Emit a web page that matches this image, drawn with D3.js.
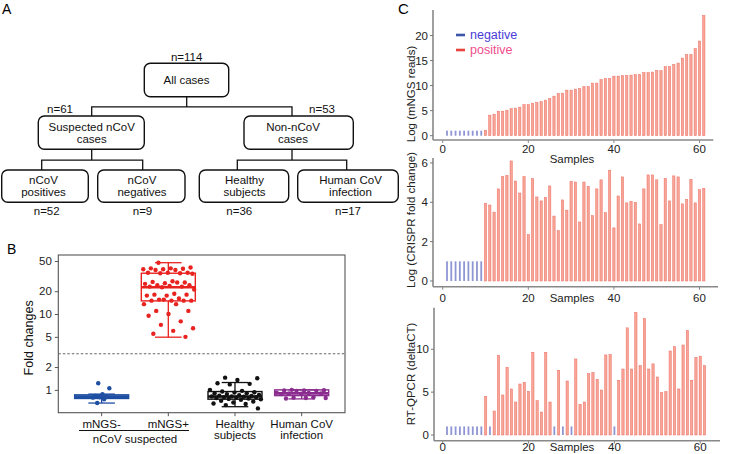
<!DOCTYPE html>
<html><head><meta charset="utf-8">
<script src="https://cdn.jsdelivr.net/npm/d3@7"></script>
<style>
body{margin:0;background:#fff}
svg{display:block}
text{font-family:"Liberation Sans",Arial,Helvetica,sans-serif}
</style>
</head><body>
<svg id="chart" width="748" height="454"></svg>
<script>
// ---------------- DATA ----------------
// Panel A: flowchart
const flowIds    = ["all","susp","non","pos","neg","hea","hum"];
const flowText   = [["All cases"],["Suspected nCoV","cases"],["Non-nCoV","cases"],["nCoV","positives"],["nCoV","negatives"],["Healthy","subjects"],["Human CoV","infection"]];
const flowCounts = ["n=114","n=61","n=53","n=52","n=9","n=36","n=17"];
const flowLinks  = [["all",["susp","non"]],["susp",["pos","neg"]],["non",["hea","hum"]]];

// Panel B: fold changes
const groupsB   = ["mNGS-","mNGS+","Healthy subjects","Human CoV infection"];
const mngsNeg   = [1.22,1.05,0.88,0.83,0.81,0.8,0.79,0.75,0.67];
const mngsPos   = [47.5,41,40,40,39.5,39,39,38,38,35,35,35,34.5,34.5,34,27,26.5,26,25.5,25,26,24,24,23.5,23,23,22.5,21,18.5,18,18,17.5,17.5,16,15.5,15,15,15,15,15.5,13.5,13.5,11,11,10,9.5,8,7.2,6.5,6,5.5,5];
const healthy   = [1.45,1.42,1.35,1.22,1.2,1.18,1.0,0.97,0.95,0.93,0.92,0.9,0.9,0.88,0.86,0.85,0.84,0.83,0.82,0.82,0.81,0.8,0.8,0.79,0.78,0.77,0.76,0.75,0.74,0.72,0.7,0.68,0.66,0.65,0.63,0.57];
const humanCoV  = [1.0,0.99,0.98,0.98,0.97,0.97,0.92,0.91,0.9,0.9,0.89,0.88,0.8,0.79,0.78,0.78,0.77];
// box stats: [low whisker, q1, median, q3, high whisker]
const boxStats  = [[0.67,0.77,0.80,0.86,0.88],[4.95,14.9,22.5,34.5,47.5],[0.6,0.754,0.816,0.95,1.25],[0.76,0.84,0.9,1.0,1.0]];
const cutoffB   = 3;
const yTicksB   = [1,2,5,10,20,50];

// Panel C: per-sample bars (samples 1..61)
const samples = d3.range(1,62);
const mngsReads = [1,1,1,1,1,1,1,1,1,1.1,4.1,4.3,4.9,4.9,5.1,5.4,5.5,5.7,6.2,6.2,6.5,6.6,6.8,7.1,7.4,7.9,8.4,8.5,9.1,9.1,9.3,9.4,9.8,9.8,10.5,10.5,11.2,11.4,11.4,11.9,11.9,12.0,12.0,12.1,12.2,12.2,12.6,12.6,12.7,13.0,13.0,13.8,13.8,14.2,14.5,15.5,16.2,16.2,17.4,18.9,24.0];
const crisprFold = [1,1,1,1,1,1,1,1,1,3.95,3.86,3.5,4.68,5.3,5.37,6.1,5.08,4.47,5.3,2.36,5.2,4.27,4.07,4.25,4.83,3.3,2.56,4.12,3.6,5.07,5.03,3.0,5.03,4.81,3.32,4.68,5.14,3.47,5.63,2.7,4.32,5.29,3.97,4.05,4.0,2.9,4.68,5.39,5.39,5.14,2.86,5.22,4.07,5.34,5.29,3.92,4.15,5.17,3.97,4.64,4.71];
const rtqpcr = [1,1,1,1,1,1,1,1,1,4.5,1,2.8,9.3,4.67,7.9,5.37,3.85,5.95,6.15,5.1,9.65,4.0,2.68,9.65,3.85,1,7.55,1,6.3,1,8.87,3.58,3.85,7.16,7.3,6.5,5.25,9.34,9.4,1,6.38,7.7,12.5,7.7,14.3,8.1,13.6,7.7,8.3,6.77,4.94,5.06,9.8,10.3,5.37,10.5,12.2,6.38,9.07,9.2,8.1];
const statusTop = samples.map(s => s <= 9 ? "negative" : "positive");
const statusMid = samples.map(s => s <= 9 ? "negative" : "positive");
const negBottom = [1,2,3,4,5,6,7,8,9,11,26,28,30,40];
const statusBot = samples.map(s => negBottom.includes(s) ? "negative" : "positive");
const legendLabels = ["negative","positive"];

// ---------------- DRAW ----------------
const svg = d3.select("#chart");
const FONT = 11.5;

// panel letters
svg.append("text").attr("x",2).attr("y",14).attr("font-size",14).text("A");
svg.append("text").attr("x",7).attr("y",254).attr("font-size",14).text("B");
svg.append("text").attr("x",398).attr("y",14).attr("font-size",15).text("C");

// ---- Panel A ----
const layoutA = {
  all :{x0:144.3,x1:228.7,y0:63.3,y1:96.7,tx:186.5,cx:186.7,nx:186.7,ny:57},
  susp:{x0:38.3,x1:144.3,y0:116,y1:149.3,tx:91.7,cx:91.7,nx:60,ny:108.5},
  non :{x0:244,x1:353.3,y0:116,y1:149.3,tx:293,cx:292,nx:322,ny:108.5},
  pos :{x0:1.7,x1:88.3,y0:170,y1:202.3,tx:43.5,cx:41.7,nx:46.7,ny:211},
  neg :{x0:97.7,x1:185,y0:170,y1:202.3,tx:142,cx:142.7,nx:142.5,ny:211},
  hea :{x0:199.3,x1:288.7,y0:170,y1:202.3,tx:244.5,cx:237.3,nx:239.3,ny:211},
  hum :{x0:297.7,x1:398.3,y0:170,y1:202.3,tx:350.5,cx:346.7,nx:348,ny:211}
};
const gA = svg.append("g");
flowLinks.forEach(([p, kids]) => {
  const P = layoutA[p];
  const c0 = layoutA[kids[0]], c1 = layoutA[kids[1]];
  const midY = (P.y1 + c0.y0) / 2 + 0.5;
  const path = d3.path();
  path.moveTo(P.cx, P.y1); path.lineTo(P.cx, midY);
  path.moveTo(c0.cx, c0.y0); path.lineTo(c0.cx, midY); path.lineTo(c1.cx, midY); path.lineTo(c1.cx, c1.y0);
  gA.append("path").attr("d", path.toString()).attr("fill","none").attr("stroke","#111").attr("stroke-width",1.3);
});
flowIds.forEach((id,i) => {
  const L = layoutA[id];
  gA.append("rect").attr("x",L.x0).attr("y",L.y0).attr("width",L.x1-L.x0).attr("height",L.y1-L.y0)
    .attr("rx",6).attr("fill","#fff").attr("stroke","#111").attr("stroke-width",1.4);
  const lines = flowText[i];
  const cy = (L.y0+L.y1)/2;
  lines.forEach((t,j) => {
    const yy = cy + (j - (lines.length-1)/2) * 12.2;
    gA.append("text").attr("x",L.tx).attr("y",yy).attr("dy","0.36em").attr("text-anchor","middle")
      .attr("font-size",FONT).attr("fill","#111").text(t);
  });
  gA.append("text").attr("x",L.nx).attr("y",L.ny).attr("dy","0.36em").attr("text-anchor","middle")
    .attr("font-size",FONT).attr("fill","#111").text(flowCounts[i]);
});

// ---- Panel B ----
const frameB = {x0:58.3,x1:345,y0:255,y1:412.7};
const yB = d3.scaleLog().domain([0.5,60]).range([frameB.y1, frameB.y0]);
const xB = d3.scalePoint().domain(groupsB).range([frameB.x0, frameB.x1]).padding(0.65);
const colorsB = ["#1f4fa3","#e8221f","#111111","#8b2d8f"];
const seriesB = [mngsNeg, mngsPos, healthy, humanCoV];
const jitterW = [9, 26, 26, 26];
const gB = svg.append("g");
gB.append("rect").attr("x",frameB.x0).attr("y",frameB.y0).attr("width",frameB.x1-frameB.x0).attr("height",frameB.y1-frameB.y0)
  .attr("fill","none").attr("stroke","#555").attr("stroke-width",1.1);
// y axis
const axB = gB.append("g").attr("transform",`translate(${frameB.x0},0)`)
  .call(d3.axisLeft(yB).tickValues(yTicksB).tickFormat(d3.format("d")).tickSize(3.5).tickPadding(3));
axB.select(".domain").remove();
axB.selectAll("line").attr("stroke","#555");
axB.selectAll("text").attr("font-size",11.5).attr("fill","#222").attr("font-family","Liberation Sans, Arial");
gB.append("text").attr("transform",`translate(28.5,${(frameB.y0+frameB.y1)/2+4}) rotate(-90)`)
  .attr("text-anchor","middle").attr("dy","0.35em").attr("font-size",12.5).attr("fill","#111").text("Fold changes");
// cutoff
gB.append("line").attr("x1",frameB.x0).attr("x2",frameB.x1).attr("y1",yB(cutoffB)).attr("y2",yB(cutoffB))
  .attr("stroke","#666").attr("stroke-width",1.1).attr("stroke-dasharray","2.5,2");
// x ticks
groupsB.forEach(g => {
  gB.append("line").attr("x1",xB(g)).attr("x2",xB(g)).attr("y1",frameB.y1).attr("y2",frameB.y1+3.5).attr("stroke","#555");
});
const xLabels = [["mNGS-"],["mNGS+"],["Healthy","subjects"],["Human CoV","infection"]];
groupsB.forEach((g,i) => {
  xLabels[i].forEach((t,j) => {
    gB.append("text").attr("x",xB(g)).attr("y",423.5 + j*11.5).attr("dy","0.35em").attr("text-anchor","middle")
      .attr("font-size",11.5).attr("fill","#111").text(t);
  });
});
gB.append("line").attr("x1",79).attr("x2",189).attr("y1",430.5).attr("y2",430.5).attr("stroke","#111").attr("stroke-width",1);
gB.append("text").attr("x",135).attr("y",438.5).attr("dy","0.35em").attr("text-anchor","middle")
  .attr("font-size",11.5).attr("fill","#111").text("nCoV suspected");
// boxes
groupsB.forEach((g,i) => {
  const [lo,q1,md,q3,hi] = boxStats[i];
  const cx = xB(g), c = colorsB[i], hw = 27, cw = 13.3;
  const bg = gB.append("g");
  bg.append("line").attr("x1",cx).attr("x2",cx).attr("y1",yB(q3)).attr("y2",yB(hi)).attr("stroke",c).attr("stroke-width",1.3);
  bg.append("line").attr("x1",cx).attr("x2",cx).attr("y1",yB(q1)).attr("y2",yB(lo)).attr("stroke",c).attr("stroke-width",1.3);
  bg.append("line").attr("x1",cx-cw).attr("x2",cx+cw).attr("y1",yB(hi)).attr("y2",yB(hi)).attr("stroke",c).attr("stroke-width",1.3);
  bg.append("line").attr("x1",cx-cw).attr("x2",cx+cw).attr("y1",yB(lo)).attr("y2",yB(lo)).attr("stroke",c).attr("stroke-width",1.3);
  bg.append("rect").attr("x",cx-hw).attr("y",yB(q3)).attr("width",2*hw).attr("height",yB(q1)-yB(q3))
    .attr("fill", i===0 ? c : "none").attr("fill-opacity", i===0 ? 0.85 : 0).attr("stroke",c).attr("stroke-width",1.4);
  bg.append("line").attr("x1",cx-hw).attr("x2",cx+hw).attr("y1",yB(md)).attr("y2",yB(md)).attr("stroke",c).attr("stroke-width",2.6);
  // points
  seriesB[i].forEach((v,k) => {
    const jit = (((k*0.618034 + 0.31) % 1) - 0.5) * 2 * jitterW[i];
    bg.append("circle").attr("cx",cx+jit).attr("cy",yB(v)).attr("r",2.2).attr("fill",c);
  });
});

// ---- Panel C ----
const barFill = {negative:"#8f96d3", positive:"#f6a597"};
const barStroke = {negative:"none", positive:"#ee6e62"};
const barW = {negative:1.8, positive:2.3};
const chartsC = [
  {vals:mngsReads, st:statusTop, yr:[140,10], yd:[-0.86,25.1], xr:[433,713.3], xd:[-2.27,63.22], ticks:[0,5,10,15,20], label:"Log (mNGS reads)", ly:94, xty:148.5, sy:158.5},
  {vals:crisprFold, st:statusMid, yr:[286.7,158], yd:[-0.29,6.25], xr:[433,718], xd:[-2.27,64.32], ticks:[0,2,4,6], label:"Log (CRISPR fold change)", ly:220, xty:297.5, sy:298},
  {vals:rtqpcr, st:statusBot, yr:[440.7,307.7], yd:[-0.665,14.85], xr:[434,720], xd:[-2.03,64.6], ticks:[0,5,10], label:"RT-QPCR (deltaCT)", ly:374, xty:446.8, sy:446.5}
];
chartsC.forEach(ch => {
  const x = d3.scaleLinear().domain(ch.xd).range(ch.xr);
  const y = d3.scaleLinear().domain(ch.yd).range(ch.yr);
  const g = svg.append("g");
  g.selectAll("rect.bar").data(samples).join("rect").attr("class","bar")
    .attr("x", (s,i) => x(s) - barW[ch.st[i]]/2).attr("width", (s,i) => barW[ch.st[i]])
    .attr("y", (s,i) => y(ch.vals[i])).attr("height", (s,i) => y(0) - y(ch.vals[i]))
    .attr("fill", (s,i) => barFill[ch.st[i]]).attr("stroke", (s,i) => barStroke[ch.st[i]]).attr("stroke-width",0.5);
  // axes lines
  g.append("line").attr("x1",ch.xr[0]).attr("x2",ch.xr[0]).attr("y1",ch.yr[0]).attr("y2",ch.yr[1]).attr("stroke","#777").attr("stroke-width",1.4);
  g.append("line").attr("x1",ch.xr[0]).attr("x2",ch.xr[1]).attr("y1",ch.yr[0]).attr("y2",ch.yr[0]).attr("stroke","#888").attr("stroke-width",1.5);
  ch.ticks.forEach(t => {
    g.append("line").attr("x1",ch.xr[0]-3).attr("x2",ch.xr[0]).attr("y1",y(t)).attr("y2",y(t)).attr("stroke","#777");
    g.append("text").attr("x",ch.xr[0]-5).attr("y",y(t)).attr("dy","0.35em").attr("text-anchor","end")
      .attr("font-size",11.5).attr("fill","#222").text(t);
  });
  [0,20,40,60].forEach(t => {
    g.append("line").attr("x1",x(t)).attr("x2",x(t)).attr("y1",ch.yr[0]).attr("y2",ch.yr[0]+3).attr("stroke","#888");
    g.append("text").attr("x",x(t)).attr("y",ch.xty).attr("dy","0.35em").attr("text-anchor","middle")
      .attr("font-size",11.5).attr("fill","#222").text(t);
  });
  g.append("text").attr("x",572).attr("y",ch.sy).attr("dy","0.35em").attr("text-anchor","middle")
    .attr("font-size",11.5).attr("fill","#222").text("Samples");
  g.append("text").attr("transform",`translate(410.7,${ch.ly}) rotate(-90)`).attr("text-anchor","middle")
    .attr("dy","0.35em").attr("font-size",11.5).attr("fill","#222").text(ch.label);
});
// legend
const legColors = {negative:"#3b55a8", positive:"#e8443c"};
const legText = {negative:"#4a3bd8", positive:"#ef4e8c"};
legendLabels.forEach((l,i) => {
  const yy = 35 + i*15;
  svg.append("line").attr("x1",456).attr("x2",465).attr("y1",yy).attr("y2",yy).attr("stroke",legColors[l]).attr("stroke-width",2.6);
  svg.append("text").attr("x",470).attr("y",yy).attr("dy","0.35em").attr("font-size",12.5).attr("fill",legText[l]).text(l);
});
</script>
</body></html>
